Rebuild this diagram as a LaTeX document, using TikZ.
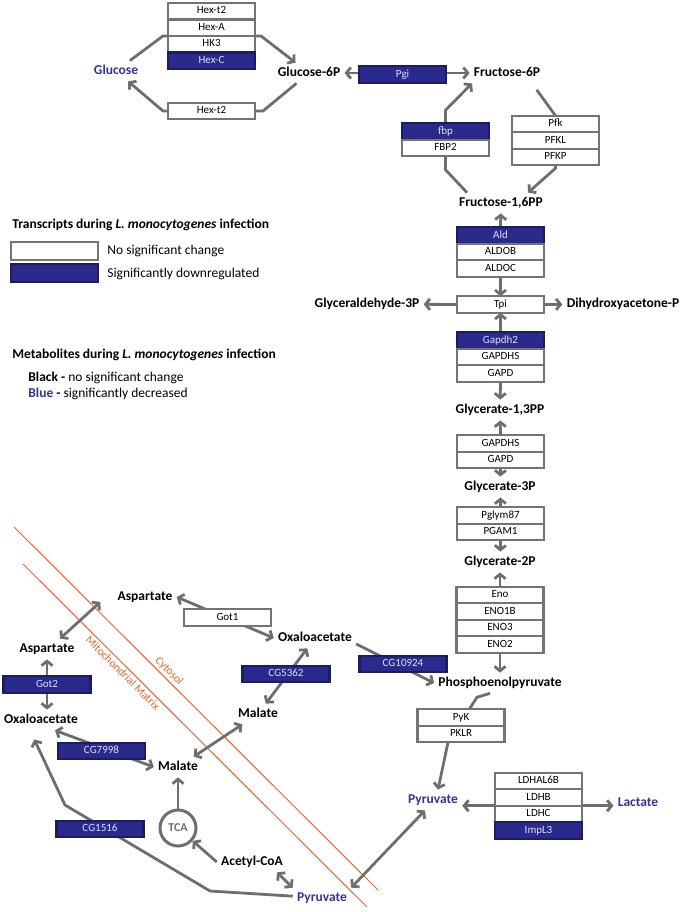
\documentclass[tikz,border=0pt]{standalone}
\usepackage{fontspec}
\setmainfont{Carlito}
\usetikzlibrary{positioning,arrows.meta,backgrounds}

\definecolor{rxngray}{RGB}{110,110,110}
\definecolor{boxgray}{RGB}{116,116,116}
\definecolor{downblue}{RGB}{42,42,140}
\definecolor{downedge}{RGB}{28,28,96}
\definecolor{downtext}{RGB}{222,222,255}
\definecolor{metblue}{RGB}{52,52,150}
\definecolor{memorange}{RGB}{234,100,46}

\tikzset{every picture/.style={line width=0.75pt}}
\tikzset{
  metab/.style={font=\fontsize{13.5}{16}\selectfont\bfseries, inner xsep=4pt, inner ysep=4pt,
    text height=9.5pt, text depth=2.5pt},
  metabdown/.style={metab, text=metblue},
  enz/.style={draw=boxgray, fill=white, line width=2.4pt, minimum width=87pt, minimum height=16.5pt,
    inner sep=0pt, outer sep=0pt, font=\fontsize{11}{13}\selectfont, text height=7.5pt, text depth=2pt},
  enzdown/.style={enz, draw=downedge, fill=downblue, text=downtext},
  rxn/.style={draw=rxngray, line width=2.8pt, >={Straight Barb[length=4.5pt,width=11pt]}},
  membrane/.style={draw=memorange, line width=1pt},
  memlabel/.style={text=memorange, font=\fontsize{11.5}{14}\selectfont, rotate=-45, inner sep=0pt},
  legtext/.style={font=\fontsize{13.5}{16}\selectfont, inner sep=0pt, anchor=west},
  leghead/.style={legtext, font=\fontsize{13.5}{16}\selectfont\bfseries},
  tcaring/.style={circle, draw=rxngray, line width=3pt, minimum size=36pt, inner sep=0pt,
    text=rxngray, font=\fontsize{12}{14}\selectfont\bfseries},
}

\begin{document}
\begin{tikzpicture}[x=1pt, y=-1pt]
  \useasboundingbox (0,0) rectangle (680,912);

  % Legend
  \node[leghead] (legtr) at (12,225) {Transcripts during \textit{L. monocytogenes} infection};
  \node[enz, minimum height=18pt] (legwhite) at (54.5,251) {};
  \node[enzdown, minimum height=18pt] (legblue) at (54.5,273) {};
  \node[legtext] (legns) at (107,251) {No significant change};
  \node[legtext] (legdown) at (107,274) {Significantly downregulated};
  \node[leghead] (legmet) at (12,355) {Metabolites during \textit{L. monocytogenes} infection};
  \node[legtext] (legblack) at (28,378) {\textbf{Black -} no significant change};
  \node[legtext] (legbluetxt) at (28,394) {\textbf{\textcolor{metblue}{Blue} -} significantly decreased};

  % Metabolites
  \node[metabdown] (glc) at (116,71) {Glucose};
  \node[metab] (g6p) at (309,73) {Glucose-6P};
  \node[metab] (f6p) at (507,73) {Fructose-6P};
  \node[metab] (f16) at (501,203) {Fructose-1,6PP};
  \node[metab] (gap) at (367,304) {Glyceraldehyde-3P};
  \node[metab] (dhap) at (623,304) {Dihydroxyacetone-P};
  \node[metab] (g13) at (500,410) {Glycerate-1,3PP};
  \node[metab] (g3p) at (500,487) {Glycerate-3P};
  \node[metab] (g2p) at (500,562) {Glycerate-2P};
  \node[metab] (pep) at (500,683) {Phosphoenolpyruvate};
  \node[metabdown] (pyrc) at (433,800) {Pyruvate};
  \node[metabdown] (lac) at (638,803) {Lactate};
  \node[metab] (aspc) at (145,597) {Aspartate};
  \node[metab] (oaac) at (315,638) {Oxaloacetate};
  \node[metab] (malc) at (258,714) {Malate};
  \node[metab] (aspm) at (47,649) {Aspartate};
  \node[metab] (oaam) at (41,720) {Oxaloacetate};
  \node[metab] (malm) at (178,767) {Malate};
  \node[metab] (acoa) at (252,862) {Acetyl-CoA};
  \node[metabdown] (pyrm) at (322,898) {Pyruvate};
  \node[tcaring] (tca) at (178,828) {TCA};

  % Enzymes
  \node[enz] (hexta) at (211.5,11.25) {Hex-t2};
  \node[enz, below=0pt of hexta] (hexa) {Hex-A};
  \node[enz, below=0pt of hexa] (hkiii) {HK3};
  \node[enzdown, below=0pt of hkiii] (hexc) {Hex-C};
  \node[enz] (hextb) at (211.5,111) {Hex-t2};
  \node[enzdown] (pgi) at (402.5,74.5) {Pgi};
  \node[enzdown] (fbp) at (445.5,131.5) {fbp};
  \node[enz, below=0pt of fbp] (fbpii) {FBP2};
  \node[enz] (pfk) at (555.5,124) {Pfk};
  \node[enz, below=0pt of pfk] (pfkl) {PFKL};
  \node[enz, below=0pt of pfkl] (pfkp) {PFKP};
  \node[enzdown] (ald) at (500.5,235.5) {Ald};
  \node[enz, below=0pt of ald] (aldob) {ALDOB};
  \node[enz, below=0pt of aldob] (aldoc) {ALDOC};
  \node[enz] (tpi) at (500.5,304.5) {Tpi};
  \node[enzdown] (gapdh) at (500.5,340.5) {Gapdh2};
  \node[enz, below=0pt of gapdh] (gapdhs) {GAPDHS};
  \node[enz, below=0pt of gapdhs] (gapd) {GAPD};
  \node[enz] (gapdhsb) at (500.5,443.5) {GAPDHS};
  \node[enz, below=0pt of gapdhsb] (gapdb) {GAPD};
  \node[enz] (pglym) at (500.5,515.5) {Pglym87};
  \node[enz, below=0pt of pglym] (pgam) {PGAM1};
  \node[enz] (eno) at (500,595) {Eno};
  \node[enz, below=0pt of eno] (enoib) {ENO1B};
  \node[enz, below=0pt of enoib] (enoiii) {ENO3};
  \node[enz, below=0pt of enoiii] (enoii) {ENO2};
  \node[enz] (pyk) at (461,717.5) {PyK};
  \node[enz, below=0pt of pyk] (pklr) {PKLR};
  \node[enz] (ldha) at (538.5,781) {LDHAL6B};
  \node[enz, below=0pt of ldha] (ldhb) {LDHB};
  \node[enz, below=0pt of ldhb] (ldhc) {LDHC};
  \node[enzdown, below=0pt of ldhc] (impl) {ImpL3};
  \node[enz] (goti) at (227.5,617.5) {Got1};
  \node[enzdown] (cgfive) at (286,674) {CG5362};
  \node[enzdown] (cgten) at (403,664) {CG10924};
  \node[enzdown] (gotii) at (47,684.5) {Got2};
  \node[enzdown] (cgseven) at (101.5,751) {CG7998};
  \node[enzdown] (cgone) at (100,829) {CG1516};

  % Membrane
  \node[memlabel] (cyto) at (169,671) {Cytosol};
  \node[memlabel] (mito) at (123,673) {Mitochondrial Matrix};

  \coordinate (cgbendi) at (210,891);
  \coordinate (cgbendii) at (65,805);

  \begin{scope}[on background layer]
    \draw[membrane] (14,527) -- (378,890);
    \draw[membrane] (23,564) -- (367,907);

    % Glycolysis
    \draw[rxn,->] (glc) -- ([xshift=-5pt]hkiii.north west) -- ([xshift=6pt]hkiii.north east) -- (g6p);
    \draw[rxn,->] (g6p) -- ([xshift=8pt]hextb.east) -- ([xshift=-5pt]hextb.west) -- (glc);
    \draw[rxn,<->] (g6p) -- (f6p);
    \draw[rxn,->] ([xshift=-34pt]f16.north) -- ([yshift=-13.5pt]fbpii.south)
      -- ([yshift=13pt]fbp.north) -- ([xshift=-35pt]f6p.south);
    \draw[rxn,->,shorten <=8pt] ([xshift=25pt]f6p.south) -- (pfk.north)
      -- ([yshift=-3pt]pfkp.south) -- ([xshift=27pt]f16.north);
    \draw[rxn,->] (ald.north) -- (f16);
    \draw[rxn,->] (aldoc.south) -- (tpi.north);
    \draw[rxn,->] (tpi.west) -- (gap);
    \draw[rxn,->] (tpi.east) -- (dhap);
    \draw[rxn,->] (gapdh.north) -- (tpi.south);
    \draw[rxn,->] (gapd.south) -- (g13);
    \draw[rxn,->] (gapdhsb.north) -- (g13);
    \draw[rxn,->] (gapdb.south) -- (g3p);
    \draw[rxn,->] (pglym.north) -- (g3p);
    \draw[rxn,->] (pgam.south) -- (g2p);
    \draw[rxn,->] (eno.north) -- (g2p);
    \draw[rxn,->] (enoii.south) -- (pep);
    \draw[rxn,->] ([xshift=-10pt]pep.south) -- ([xshift=16pt,yshift=12pt]pyk.north)
      -- ([xshift=-13pt]pklr.south) -- ([xshift=5pt]pyrc.north);
    \draw[rxn,<->] (pyrc.east |- ldhb.south) -- (lac.west |- ldhb.south);

    % Shuttle and TCA
    \draw[rxn,<->] (aspc.east) -- (oaac.west);
    \draw[rxn,<->] (malc) -- (oaac);
    \draw[rxn,->] ([yshift=-6pt]oaac.east) -- (pep.west);
    \draw[rxn,<->] ([xshift=13pt]aspm.north) -- ([xshift=-13pt,yshift=-5pt]aspc.west);
    \draw[rxn,<->] (aspm.south) -- (aspm.south |- oaam.north);
    \draw[rxn,<->] ([xshift=14pt]oaam.south) -- (malm.west);
    \draw[rxn,<->] (malm) -- (malc);
    \draw[rxn,->] (tca) -- (malm);
    \draw[rxn,->] (acoa.west) -- (tca);
    \draw[rxn,<->] ([xshift=25pt]acoa.south) -- (pyrm.north west);
    \draw[rxn,->,shorten >=10pt] (pyrm) -- (cgbendi) -- (cgbendii) -- ([xshift=-11pt]oaam.south);
    \draw[rxn,<->] (pyrm.north east) -- ([xshift=-8pt]pyrc.south);
  \end{scope}
\end{tikzpicture}
\end{document}
